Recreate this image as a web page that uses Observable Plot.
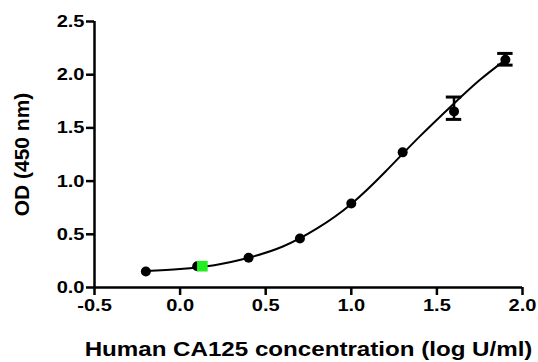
<!DOCTYPE html>
<html>
<head>
<meta charset="utf-8">
<script src="https://cdn.jsdelivr.net/npm/d3@7"></script>
<script src="https://cdn.jsdelivr.net/npm/@observablehq/plot@0.6"></script>
<style>
  html, body { margin: 0; padding: 0; background: #fff; }
  #chart svg { display: block; }
</style>
</head>
<body>
<div id="chart"></div>
<script>
// log concentration (log U/ml)
const logConc = [-0.2, 0.1, 0.4, 0.7, 1.0, 1.3, 1.6, 1.9];
// mean OD at 450 nm
const odMean = [0.15, 0.20, 0.28, 0.46, 0.79, 1.27, 1.655, 2.14];
// error bar limits
const odLow  = [0.15, 0.20, 0.28, 0.46, 0.79, 1.27, 1.58, 2.09];
const odHigh = [0.15, 0.20, 0.28, 0.46, 0.79, 1.27, 1.79, 2.20];
// fitted curve
const fitX = [-0.2, 0.0, 0.2, 0.4, 0.6, 0.8, 1.0, 1.2, 1.4, 1.6, 1.75, 1.9];
const fitY = [0.155, 0.175, 0.21, 0.28, 0.385, 0.555, 0.785, 1.09, 1.42, 1.73, 1.95, 2.14];
// highlighted sample (green square)
const sampleX = [0.13];
const sampleY = [0.20];
const xTicks = [-0.5, 0.0, 0.5, 1.0, 1.5, 2.0];
const yTicks = [0.0, 0.5, 1.0, 1.5, 2.0, 2.5];

const points = logConc.map((x, i) => ({x, y: odMean[i], lo: odLow[i], hi: odHigh[i]}));
const withErr = points.filter(d => d.hi - d.lo > 0.001);
const fit = fitX.map((x, i) => ({x, y: fitY[i]}));
const sample = sampleX.map((x, i) => ({x, y: sampleY[i]}));
const capHalf = 0.045;

const chart = Plot.plot({
  width: 538,
  height: 362,
  marginLeft: 94,
  marginRight: 16,
  marginTop: 21,
  marginBottom: 75,
  style: {fontFamily: "'Liberation Sans', Arial, sans-serif", fontWeight: "bold", background: "#fff", color: "#000"},
  x: {domain: [-0.5, 2.0]},
  y: {domain: [0, 2.5]},
  marks: [
    Plot.axisX({ticks: xTicks, tickFormat: d => d.toFixed(1), tickSize: 8, tickPadding: 3, fontSize: 17, fontWeight: "bold",
      label: "Human CA125 concentration (log U/ml)", labelAnchor: "center", labelArrow: "none", labelOffset: 68}),
    Plot.axisY({ticks: yTicks, tickFormat: d => d.toFixed(1), tickSize: 8, tickPadding: 2, fontSize: 17, fontWeight: "bold",
      label: "OD (450 nm)", labelAnchor: "center", labelArrow: "none", labelOffset: 80}),
    Plot.ruleX([-0.5], {y1: 0, y2: 2.5, strokeWidth: 2.5}),
    Plot.ruleY([0], {x1: -0.5, x2: 2.0, strokeWidth: 2.5}),
    Plot.line(fit, {x: "x", y: "y", curve: "natural", strokeWidth: 2}),
    Plot.ruleX(withErr, {x: "x", y1: "lo", y2: "hi", strokeWidth: 2.5}),
    Plot.ruleY(withErr, {y: "hi", x1: d => d.x - capHalf, x2: d => d.x + capHalf, strokeWidth: 3}),
    Plot.ruleY(withErr, {y: "lo", x1: d => d.x - capHalf, x2: d => d.x + capHalf, strokeWidth: 3}),
    Plot.dot(points, {x: "x", y: "y", r: 5, fill: "#000"}),
    Plot.dot(sample, {x: "x", y: "y", symbol: "square", r: 6, fill: "#22ee22"})
  ]
});
chart.querySelectorAll("g[aria-label]").forEach(g => {
  const a = g.getAttribute("aria-label");
  let size = null, sx = 1;
  if (/axis tick label/.test(a)) { size = 17; sx = 1.18; }
  else if (a === "x-axis label") { size = 21; sx = 1.15; }
  else if (a === "y-axis label") { size = 21; sx = 1; }
  if (size) {
    g.setAttribute("font-size", size);
    g.querySelectorAll("text").forEach(t => {
      t.setAttribute("font-size", size);
      t.setAttribute("font-weight", "bold");
      t.setAttribute("fill", "#000");
      if (sx !== 1) t.setAttribute("transform", (t.getAttribute("transform") || "") + ` scale(${sx},1)`);
    });
  }
  if (/axis tick$/.test(a)) {
    g.setAttribute("stroke", "#000");
    g.setAttribute("stroke-width", 2.5);
  }
});
document.getElementById("chart").appendChild(chart);
</script>
</body>
</html>
